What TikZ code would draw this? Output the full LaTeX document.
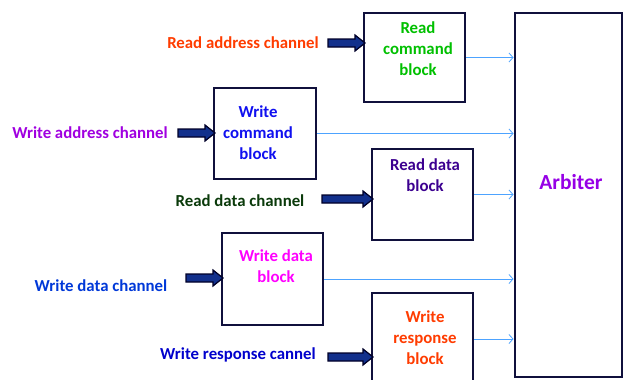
\documentclass[tikz,border=0pt]{standalone}
\usepackage{fontspec}
\setmainfont{Carlito}
\usetikzlibrary{arrows.meta,calc}

\definecolor{boxline}{HTML}{10103C}
\definecolor{linkblue}{HTML}{4DA3FF}
\definecolor{fatfill}{HTML}{12308C}
\definecolor{fatedge}{HTML}{000028}
\definecolor{cOrange}{HTML}{FF3C00}
\definecolor{cGreen}{HTML}{00C000}
\definecolor{cPurple}{HTML}{A000E0}
\definecolor{cBlue}{HTML}{1010F0}
\definecolor{cDkGreen}{HTML}{0A3A0A}
\definecolor{cIndigo}{HTML}{3C0090}
\definecolor{cMagenta}{HTML}{FF00FF}
\definecolor{cWBlue}{HTML}{0038D8}
\definecolor{cRBlue}{HTML}{0000CC}
\definecolor{cArb}{HTML}{9600E6}

\tikzset{
  blockbox/.style={draw=boxline, line width=2pt, fill=white, inner sep=0pt},
  blocktext/.style={font=\fontsize{16.8}{21}\selectfont\bfseries, align=center, inner sep=0pt},
  chanlabel/.style={font=\fontsize{16.8}{20}\selectfont\bfseries, inner sep=0pt},
  link/.style={draw=linkblue, line width=0.8pt, -{Straight Barb[length=4pt,width=9pt]}},
  fatarrow/.style={draw=fatedge, fill=fatfill, line width=1.2pt, line join=miter,
    to path={let \p1=(\tikztostart), \p2=(\tikztotarget) in
      (\x1,\y1+4pt) -- (\x2-10pt,\y1+4pt) -- (\x2-10pt,\y1+8pt) -- (\x2,\y1)
      -- (\x2-10pt,\y1-8pt) -- (\x2-10pt,\y1-4pt) -- (\x1,\y1-4pt) -- cycle}}
}

\begin{document}
\begin{tikzpicture}[x=1pt,y=-1pt]
\useasboundingbox (0,0) rectangle (624,380);
\clip (0,0) rectangle (624,380);

% arbiter and the five blocks
\node[blockbox, minimum width=107pt, minimum height=364pt] (arb) at (568,195) {};
\node[blockbox, minimum width=101pt, minimum height=89pt] (rcb) at (414.5,57.5) {};
\node[blockbox, minimum width=102pt, minimum height=91pt] (wcb) at (265,133.5) {};
\node[blockbox, minimum width=101pt, minimum height=91pt] (rdb) at (422.5,194.5) {};
\node[blockbox, minimum width=101pt, minimum height=92pt] (wdb) at (272.5,279) {};
\node[blockbox, minimum width=101pt, minimum height=92pt] (wrb) at (422.5,339) {};

% block captions
\node[blocktext, text=cArb, font=\fontsize{21.5}{25}\selectfont\bfseries] (arbt) at (571,182) {Arbiter};
\node[blocktext, text=cGreen] (rcbt) at (418,49) {Read\\command\\block};
\node[blocktext, text=cBlue] (wcbt) at (258,133) {Write\\command\\block};
\node[blocktext, text=cIndigo] (rdbt) at (425,175) {Read data\\block};
\node[blocktext, text=cMagenta] (wdbt) at (276,266) {Write data\\block};
\node[blocktext, text=cOrange] (wrbt) at (425,338) {Write\\response\\block};

% channel labels
\node[chanlabel, text=cOrange] (lra) at (243,43) {Read address channel};
\node[chanlabel, text=cPurple] (lwa) at (90,133) {Write address channel};
\node[chanlabel, text=cDkGreen] (lrd) at (240,201) {Read data channel};
\node[chanlabel, text=cWBlue] (lwd) at (101,286) {Write data channel};
\node[chanlabel, text=cRBlue] (lwr) at (238,355) {Write response cannel};

% ends of the fat input arrows
\coordinate (s1) at (328,43);  \coordinate (e1) at ([xshift=2pt]rcb.west |- s1);
\coordinate (s2) at (178,133); \coordinate (e2) at ([xshift=2pt]wcb.west |- s2);
\coordinate (s3) at (322,199); \coordinate (e3) at ([xshift=2pt]rdb.west |- s3);
\coordinate (s4) at (186,278); \coordinate (e4) at ([xshift=2pt]wdb.west |- s4);
\coordinate (s5) at (328,357); \coordinate (e5) at ([xshift=2pt]wrb.west |- s5);

% thin links into the arbiter
\draw[link] (rcb.east) -- (arb.west |- rcb.east);
\draw[link] (wcb.east) -- (arb.west |- wcb.east);
\draw[link] (rdb.east) -- (arb.west |- rdb.east);
\draw[link] (wdb.east) -- (arb.west |- wdb.east);
\draw[link] (wrb.east) -- (arb.west |- wrb.east);

% fat channel arrows
\draw[fatarrow] (s1) to (e1);
\draw[fatarrow] (s2) to (e2);
\draw[fatarrow] (s3) to (e3);
\draw[fatarrow] (s4) to (e4);
\draw[fatarrow] (s5) to (e5);
\end{tikzpicture}
\end{document}
